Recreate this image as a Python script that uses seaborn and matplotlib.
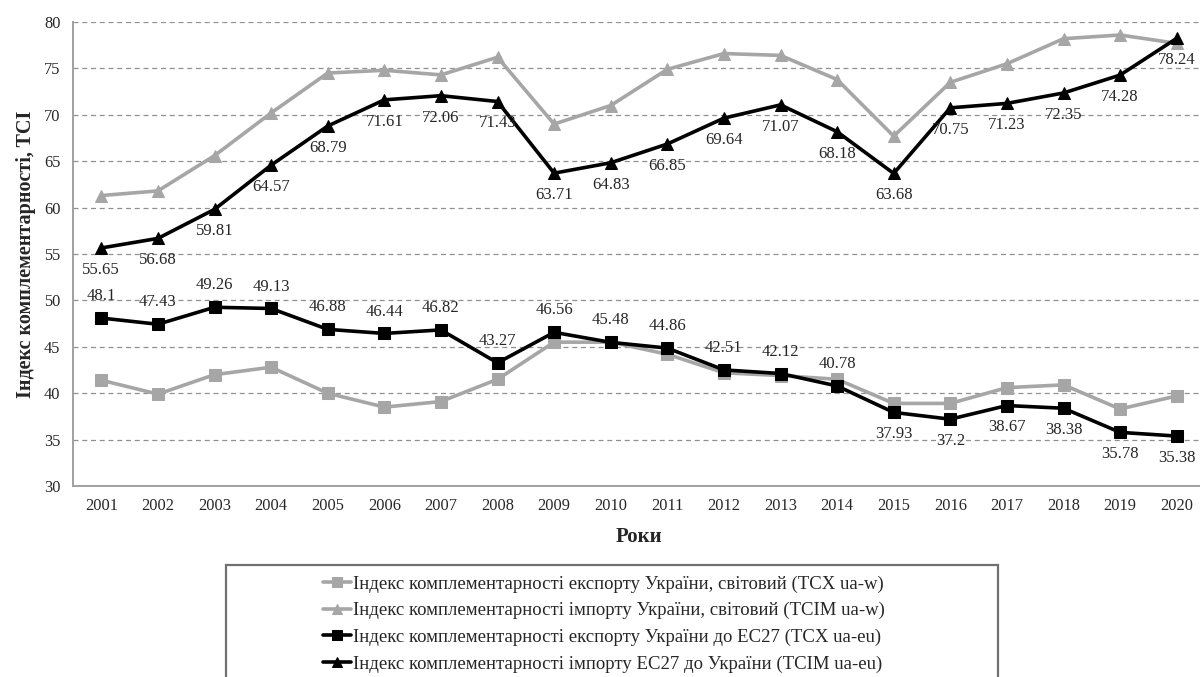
import numpy as np
import pandas as pd
import matplotlib
matplotlib.use("Agg")
import matplotlib.pyplot as plt
from matplotlib.patches import Rectangle
import seaborn as sns

years = [str(y) for y in range(2001, 2021)]

tcx_w = [41.4, 39.9, 42.0, 42.8, 40.0, 38.5, 39.1, 41.5, 45.5, 45.5,
         44.2, 42.2, 41.9, 41.5, 38.9, 38.9, 40.6, 40.9, 38.3, 39.7]
tcim_w = [61.3, 61.8, 65.6, 70.2, 74.5, 74.8, 74.3, 76.2, 69.0, 71.0,
          74.9, 76.6, 76.4, 73.8, 67.7, 73.5, 75.5, 78.2, 78.6, 77.7]
tcx_eu = [48.1, 47.43, 49.26, 49.13, 46.88, 46.44, 46.82, 43.27, 46.56, 45.48,
          44.86, 42.51, 42.12, 40.78, 37.93, 37.2, 38.67, 38.38, 35.78, 35.38]
tcim_eu = [55.65, 56.68, 59.81, 64.57, 68.79, 71.61, 72.06, 71.43, 63.71, 64.83,
           66.85, 69.64, 71.07, 68.18, 63.68, 70.75, 71.23, 72.35, 74.28, 78.24]

labels = [
    "Індекс комплементарності експорту України, світовий (TCX ua-w)",
    "Індекс комплементарності імпорту України, світовий (TCIM ua-w)",
    "Індекс комплементарності експорту України до ЕС27 (TCX ua-eu)",
    "Індекс комплементарності імпорту ЕС27 до України (TCIM ua-eu)",
]

sns.set_style("white")
plt.rcParams["font.family"] = ["Liberation Serif", "DejaVu Serif"]

gray = "#A6A6A6"
fig = plt.figure(figsize=(12, 6.77), dpi=100)
ax = fig.add_axes([73 / 1200, 1 - 486 / 677, 1132 / 1200, 464 / 677])

x = np.arange(len(years))
series = [
    (tcx_w, gray, "s", labels[0]),
    (tcim_w, gray, "^", labels[1]),
    (tcx_eu, "black", "s", labels[2]),
    (tcim_eu, "black", "^", labels[3]),
]
for vals, col, mk, lab in series:
    sns.lineplot(x=x, y=vals, ax=ax, color=col, marker=mk, markersize=9,
                 markeredgecolor=col, linewidth=2.6, label=lab, legend=False)

# data labels
for i, v in enumerate(tcx_eu):
    txt = f"{v:g}"
    if i < 14:
        ax.annotate(txt, (i, v), xytext=(0, 10), textcoords="offset points",
                    ha="center", va="bottom", fontsize=12)
    else:
        ax.annotate(txt, (i, v), xytext=(0, -10), textcoords="offset points",
                    ha="center", va="top", fontsize=12)
for i, v in enumerate(tcim_eu):
    ax.annotate(f"{v:g}", (i, v), xytext=(0, -10), textcoords="offset points",
                ha="center", va="top", fontsize=12)

ax.set_xlim(-0.5, len(years) - 0.5)
ax.set_ylim(30, 80)
ax.set_yticks(range(30, 81, 5))
ax.set_xticks(x)
ax.set_xticklabels(years)
ax.set_xticks(np.arange(-0.5, len(years), 1), minor=True)
ax.tick_params(axis="x", which="major", length=0, labelsize=11.8, pad=9)
ax.tick_params(axis="x", which="minor", length=5, color="#A0A0A0", width=1.2)
ax.tick_params(axis="y", length=5, color="#A0A0A0", width=1.2, labelsize=11.8, pad=4)
ax.grid(axis="y", linestyle=(0, (4, 3)), color="#909090", linewidth=0.9)
ax.set_axisbelow(True)
for s in ["top", "right"]:
    ax.spines[s].set_visible(False)
for s in ["left", "bottom"]:
    ax.spines[s].set_color("#A0A0A0")
    ax.spines[s].set_linewidth(1.4)

ax.set_xlabel("Роки", fontsize=15, fontweight="bold", labelpad=9)
ax.set_ylabel("Індекс комплементарності, TCI", fontsize=14.5, fontweight="bold", labelpad=6)

# legend box
fig.patches.append(Rectangle((226 / 1200, -0.05), 772 / 1200, 0.05 + (677 - 565) / 677,
                             transform=fig.transFigure, fill=False,
                             edgecolor="#707070", linewidth=1.6))
handles, labs = ax.get_legend_handles_labels()
fig.legend(handles, labs, loc="upper center", bbox_to_anchor=(604 / 1200, 1 - 566 / 677),
           frameon=False, fontsize=13.5, handlelength=1.5, handletextpad=0.1,
           labelspacing=0.5, borderpad=0, markerscale=0.8)

fig.savefig("out.png", dpi=100)
